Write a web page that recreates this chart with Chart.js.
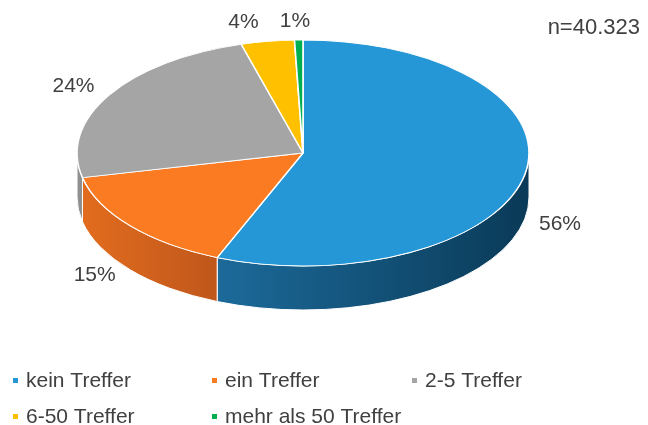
<!DOCTYPE html>
<html>
<head>
<meta charset="utf-8">
<script src="https://cdn.jsdelivr.net/npm/chart.js@4"></script>
<style>
  html, body { margin: 0; padding: 0; background: #fff; }
  canvas { display: block; }
</style>
</head>
<body>
<canvas id="pieChart" width="648" height="425"></canvas>
<script>
// Treffer-Verteilung (n=40.323)
const categories = ['kein Treffer', 'ein Treffer', '2-5 Treffer', '6-50 Treffer', 'mehr als 50 Treffer'];
const shares = [56.2, 15.3, 24.1, 3.8, 0.6];
const topColors = ['#2596D6', '#FA7B21', '#A5A5A5', '#FFC000', '#00B050'];
const sideColors = [['#1C6A9A', '#0A3A57'], ['#E26C1E', '#BF571B'], ['#959595', '#8A8A8A'], ['#D9A300', '#C09000'], ['#009644', '#008a3e']];
const sampleNote = 'n=40.323';

// look of the tilted pie
const CX = 303, CY = 153, RX = 226, RY = 113, DEPTH = 44;
const textColor = '#404040';
const labelShiftX = [-4, -5, -1, -18, -3]; // small manual nudges, like the original

const ctx = document.getElementById('pieChart').getContext('2d');

const pie3d = {
    id: 'pie3d',
    beforeDatasetsDraw(chart) {
        const c = chart.ctx;
        const arcs = chart.getDatasetMeta(0).data;

        // side walls (front half only)
        arcs.forEach((arc, i) => {
            const a0 = Math.max(arc.startAngle, 0);
            const a1 = Math.min(arc.endAngle, Math.PI);
            if (a1 <= a0) return;
            const x0 = CX + RX * Math.cos(a0), x1 = CX + RX * Math.cos(a1);
            const grad = c.createLinearGradient(Math.min(x0, x1), 0, Math.max(x0, x1), 0);
            grad.addColorStop(0, sideColors[i][0]);
            grad.addColorStop(1, sideColors[i][1]);
            c.save();
            c.beginPath();
            c.ellipse(CX, CY, RX, RY, 0, a0, a1, false);
            c.ellipse(CX, CY + DEPTH, RX, RY, 0, a1, a0, true);
            c.closePath();
            c.fillStyle = grad;
            c.fill();
            c.strokeStyle = '#fff';
            c.lineWidth = 1;
            c.stroke();
            c.restore();
        });

        // top face: library arcs squashed into an ellipse
        arcs.forEach(arc => {
            const r = arc.outerRadius;
            c.save();
            c.translate(CX, CY);
            c.scale(RX / r, RY / r);
            c.translate(-arc.x, -arc.y);
            arc.draw(c);
            c.restore();
        });
        return false;
    },
    afterDraw(chart) {
        const c = chart.ctx;
        const arcs = chart.getDatasetMeta(0).data;
        const total = shares.reduce((s, v) => s + v, 0);

        c.save();
        c.fillStyle = textColor;
        c.textAlign = 'center';
        c.textBaseline = 'middle';
        c.font = '21px "Liberation Sans", Arial, sans-serif';
        arcs.forEach((arc, i) => {
            const a = (arc.startAngle + arc.endAngle) / 2;
            const cs = Math.cos(a), sn = Math.sin(a);
            const x = CX + (RX + 40) * cs + labelShiftX[i];
            const y = sn > 0 ? CY + RY * sn + DEPTH + 5 : CY + (RY + 20) * sn + 1;
            c.fillText(Math.round(shares[i] / total * 100) + '%', x, y);
        });

        // sample size
        c.textAlign = 'right';
        c.font = '22px "Liberation Sans", Arial, sans-serif';
        c.fillText(sampleNote, 640, 28);

        // legend grid
        const colX = [13, 212, 412];
        const rowY = [380, 416];
        c.textAlign = 'left';
        c.font = '21px "Liberation Sans", Arial, sans-serif';
        categories.forEach((label, i) => {
            const x = colX[i % 3];
            const y = rowY[Math.floor(i / 3)];
            c.fillStyle = topColors[i];
            c.fillRect(x, y - 2, 5, 5);
            c.fillStyle = textColor;
            c.fillText(label, x + 13, y + 1);
        });
        c.restore();
    }
};

const pieChart = new Chart(ctx, {
    type: 'pie',
    data: {
        labels: categories,
        datasets: [{
            data: shares,
            backgroundColor: topColors,
            borderColor: '#ffffff',
            borderWidth: 1.5,
            clip: false
        }]
    },
    options: {
        responsive: false,
        animation: false,
        events: [],
        plugins: {
            legend: { display: false },
            tooltip: { enabled: false }
        }
    },
    plugins: [pie3d]
});
</script>
</body>
</html>
